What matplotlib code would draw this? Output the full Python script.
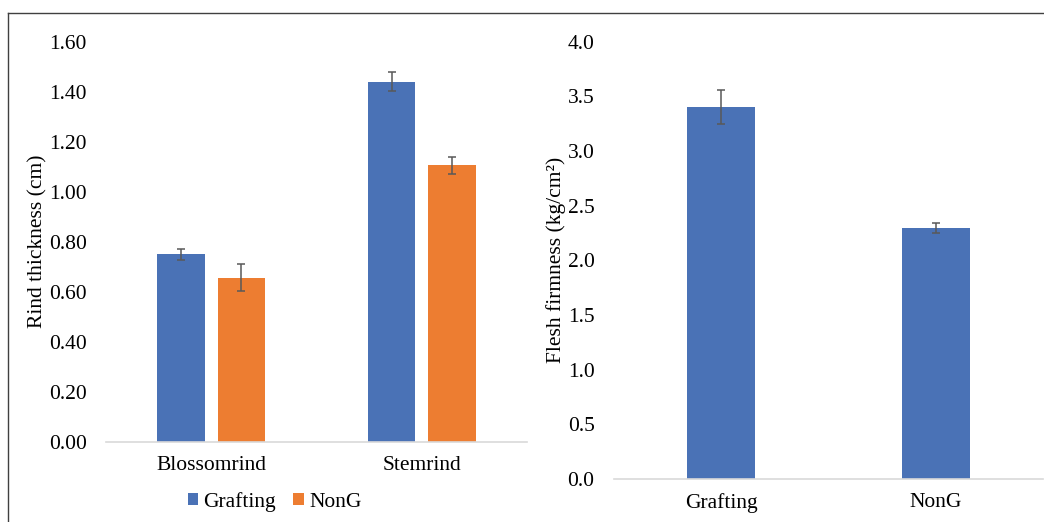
import matplotlib
matplotlib.use("Agg")
import matplotlib.pyplot as plt
import numpy as np
from matplotlib.lines import Line2D
from matplotlib.patches import Patch

# ---- data ----
rind_categories = ["Blossomrind", "Stemrind"]
rind_grafting = [0.75, 1.44]
rind_grafting_err = [0.022, 0.037]
rind_nong = [0.656, 1.105]
rind_nong_err = [0.053, 0.035]
rind_ticks = [0.0, 0.2, 0.4, 0.6, 0.8, 1.0, 1.2, 1.4, 1.6]

firm_categories = ["Grafting", "NonG"]
firm_values = [3.40, 2.295]
firm_err = [0.157, 0.045]
firm_ticks = [0.0, 0.5, 1.0, 1.5, 2.0, 2.5, 3.0, 3.5, 4.0]

series_names = ["Grafting", "NonG"]

# ---- style ----
BLUE = "#4A72B6"
ORANGE = "#ED7D31"
AXIS_GREY = "#D9D9D9"
ERR_GREY = "#595959"
FS = 15.5
plt.rcParams["font.family"] = ["Liberation Serif", "DejaVu Serif"]

W, H = 1044, 522
fig = plt.figure(figsize=(W / 100, H / 100), dpi=100)

def frac_box(x0, y_top, x1, y_bot):
    return [x0 / W, 1 - y_bot / H, (x1 - x0) / W, (y_bot - y_top) / H]

err_kw = dict(ecolor=ERR_GREY, elinewidth=1.1, capsize=3.2, capthick=1.1)

# ---- left chart ----
ax1 = fig.add_axes(frac_box(106, 41.7, 527, 441.7))
x = np.arange(len(rind_categories))
bw = 0.226
off = 0.143
ax1.bar(x - off, rind_grafting, bw, yerr=rind_grafting_err, color=BLUE,
        error_kw=err_kw, zorder=2)
ax1.bar(x + off, rind_nong, bw, yerr=rind_nong_err, color=ORANGE,
        error_kw=err_kw, zorder=2)
ax1.set_xlim(-0.5, len(rind_categories) - 0.5)
ax1.set_ylim(0, 1.6)
ax1.set_yticks(rind_ticks)
ax1.set_yticklabels([f"{t:.2f}" for t in rind_ticks])
ax1.set_xticks(x)
ax1.set_xticklabels(rind_categories)
ax1.set_ylabel("Rind thickness (cm)", fontsize=FS)
ax1.yaxis.set_label_coords(-0.140, 0.5)

# ---- right chart ----
ax2 = fig.add_axes(frac_box(614, 41.7, 1043, 479))
x2 = np.arange(len(firm_categories))
ax2.bar(x2, firm_values, 0.316, yerr=firm_err, color=BLUE,
        error_kw=err_kw, zorder=2)
ax2.set_xlim(-0.5, len(firm_categories) - 0.5)
ax2.set_ylim(0, 4.0)
ax2.set_yticks(firm_ticks)
ax2.set_yticklabels([f"{t:.1f}" for t in firm_ticks])
ax2.set_xticks(x2)
ax2.set_xticklabels(firm_categories)
ax2.set_ylabel("Flesh firmness (kg/cm\u00b2)", fontsize=FS)
ax2.yaxis.set_label_coords(-0.112, 0.5)

for ax in (ax1, ax2):
    for s in ("left", "right", "top"):
        ax.spines[s].set_visible(False)
    ax.spines["bottom"].set_color(AXIS_GREY)
    ax.spines["bottom"].set_linewidth(1.2)
    ax.tick_params(axis="both", length=0, labelsize=FS, colors="black")
    ax.tick_params(axis="x", pad=10)
    ax.tick_params(axis="y", pad=14)
    ax.set_facecolor("none")

# ---- legend ----
handles = [Patch(facecolor=BLUE, edgecolor="none"),
           Patch(facecolor=ORANGE, edgecolor="none")]
fig.legend(handles, series_names, loc="center",
           bbox_to_anchor=(274.5 / W, 1 - 501.7 / H), ncol=2, frameon=False,
           fontsize=FS, handlelength=0.48, handleheight=0.48,
           handletextpad=0.25, columnspacing=0.8, borderpad=0, borderaxespad=0)

# ---- border lines ----
fig.add_artist(Line2D([7.5 / W, 1.0], [1 - 12.5 / H, 1 - 12.5 / H],
                      transform=fig.transFigure, color="#404040", lw=1.0))
fig.add_artist(Line2D([7.5 / W, 7.5 / W], [1 - 12.5 / H, 0.0],
                      transform=fig.transFigure, color="#404040", lw=1.0))

fig.savefig("out.png", dpi=100, facecolor="white")
